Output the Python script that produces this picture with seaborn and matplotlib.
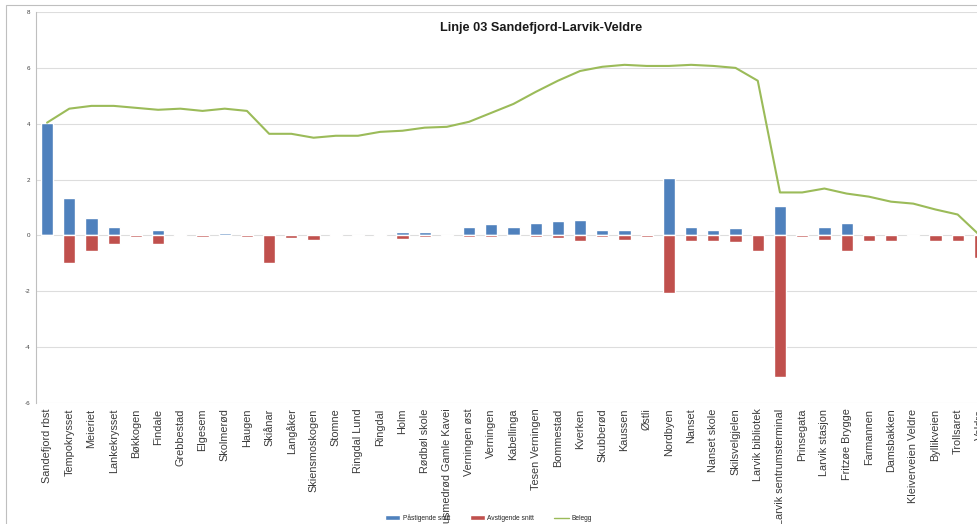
import numpy as np
import pandas as pd
import matplotlib
matplotlib.use("Agg")
import matplotlib.pyplot as plt
from matplotlib.patches import Rectangle, Patch
from matplotlib.lines import Line2D
import seaborn as sns

stops = [
    "Sandefjord rbst", "Tempokrysset", "Meieriet", "Lankekrysset", "Bøkkogen",
    "Findale", "Grebbestad", "Elgesem", "Skolmerød", "Haugen", "Skiånar",
    "Langåker", "Skiensmoskogen", "Stomne", "Ringdal Lund", "Ringdal", "Holm",
    "Rødbøl skole", "Husmedrød Gamle Kavei", "Verningen øst", "Verningen",
    "Kabellinga", "Tesen Verningen", "Bommestad", "Kverken", "Skubberød",
    "Kaussen", "Østli", "Nordbyen", "Nanset", "Nanset skole", "Skilsvelgjelen",
    "Larvik bibliotek", "Larvik sentrumsterminal", "Prinsegata", "Larvik stasjon",
    "Fritzøe Brygge", "Farmannen", "Damsbakken", "Kleiverveien Veldre",
    "Byllikveien", "Trollsaret", "Veldre",
]

# average boardings per stop
pastigende = [
    4.04, 1.35, 0.64, 0.29, 0.02, 0.18, 0.07, 0.01, 0.08, 0.01, 0.0,
    0.07, 0.0, 0.04, 0.01, 0.05, 0.11, 0.14, 0.0, 0.29, 0.40,
    0.32, 0.46, 0.50, 0.57, 0.21, 0.18, 0.02, 2.07, 0.29, 0.18, 0.25,
    0.04, 1.04, 0.07, 0.32, 0.43, 0.02, 0.0, 0.0, 0.0, 0.0, 0.0,
]

# average alightings per stop (drawn below zero)
avstigende = [
    0.0, -0.98, -0.54, -0.29, -0.05, -0.29, -0.03, -0.05, -0.03, -0.07, -1.00,
    -0.10, -0.18, -0.01, -0.01, -0.02, -0.14, -0.05, -0.03, -0.05, -0.07,
    -0.02, -0.05, -0.10, -0.20, -0.07, -0.18, -0.07, -2.07, -0.21, -0.21, -0.25,
    -0.54, -5.07, -0.04, -0.18, -0.57, -0.21, -0.21, -0.02, -0.20, -0.20, -0.79,
]

# average load on board after each stop
belegg = [
    4.04, 4.54, 4.64, 4.64, 4.57, 4.50, 4.54, 4.46, 4.54, 4.46, 3.64,
    3.64, 3.50, 3.57, 3.57, 3.71, 3.75, 3.86, 3.89, 4.07, 4.39,
    4.71, 5.14, 5.54, 5.89, 6.04, 6.11, 6.07, 6.07, 6.11, 6.07, 6.00,
    5.54, 1.54, 1.54, 1.68, 1.50, 1.39, 1.21, 1.14, 0.93, 0.75, 0.0,
]

y_ticks = [-6, -4, -2, 0, 2, 4, 6, 8]
title = "Linje 03 Sandefjord-Larvik-Veldre"

BLUE = "#4F81BD"
RED = "#C0504D"
GREEN = "#9BBB59"

df = pd.DataFrame({"stopp": stops, "på": pastigende, "av": avstigende, "belegg": belegg})

sns.set_style("white")
plt.rcParams["font.family"] = ["Liberation Sans", "DejaVu Sans"]

fig = plt.figure(figsize=(9.77, 5.24), dpi=100)
ax = fig.add_axes([0.0368, 0.2309, 0.9775, 0.7461])

sns.barplot(data=df, x="stopp", y="på", color=BLUE, saturation=1, width=0.55, ax=ax)
sns.barplot(data=df, x="stopp", y="av", color=RED, saturation=1, width=0.55, ax=ax)
sns.lineplot(x=np.arange(len(stops)), y=df["belegg"], color=GREEN, lw=1.5, ax=ax)

ax.set_xlim(-0.5, len(stops) - 0.5)
ax.set_ylim(-6, 8)
ax.set_yticks(y_ticks)
ax.set_yticklabels([str(t) for t in y_ticks], fontsize=4.5, color="#404040")
ax.set_xticks(np.arange(len(stops)))
ax.set_xticklabels(stops, rotation=90, fontsize=7.8, color="#3a3a3a", va="top")
ax.tick_params(axis="both", length=0, pad=4)
ax.set_xlabel("")
ax.set_ylabel("")

ax.yaxis.grid(True, color="#DDDDDD", lw=0.8)
ax.set_axisbelow(True)
for side in ("top", "right", "bottom"):
    ax.spines[side].set_visible(False)
ax.spines["left"].set_color("#BFBFBF")
ax.spines["left"].set_linewidth(0.8)

fig.text(541 / 977, 1 - 28 / 524, title, ha="center", va="center",
         fontsize=9.2, fontweight="bold", color="#1a1a1a")

# chart area frame
fig.patches.append(Rectangle((0.006, -0.05), 1.2, 0.04 + 1 - 5 / 524 + 0.01,
                             transform=fig.transFigure, fill=False,
                             edgecolor="#BFBFBF", lw=0.8))

handles = [
    Patch(facecolor=BLUE, label="Påstigende snitt"),
    Patch(facecolor=RED, label="Avstigende snitt"),
    Line2D([0], [0], color=GREEN, lw=1.0, label="Belegg"),
]
fig.legend(handles=handles, loc="center", bbox_to_anchor=(0.5, 1 - 518 / 524),
           ncol=3, frameon=False, fontsize=4.8, handlelength=2.2, handleheight=0.6,
           columnspacing=3.0, handletextpad=0.4)

fig.savefig("out.png", dpi=100, facecolor="white")
